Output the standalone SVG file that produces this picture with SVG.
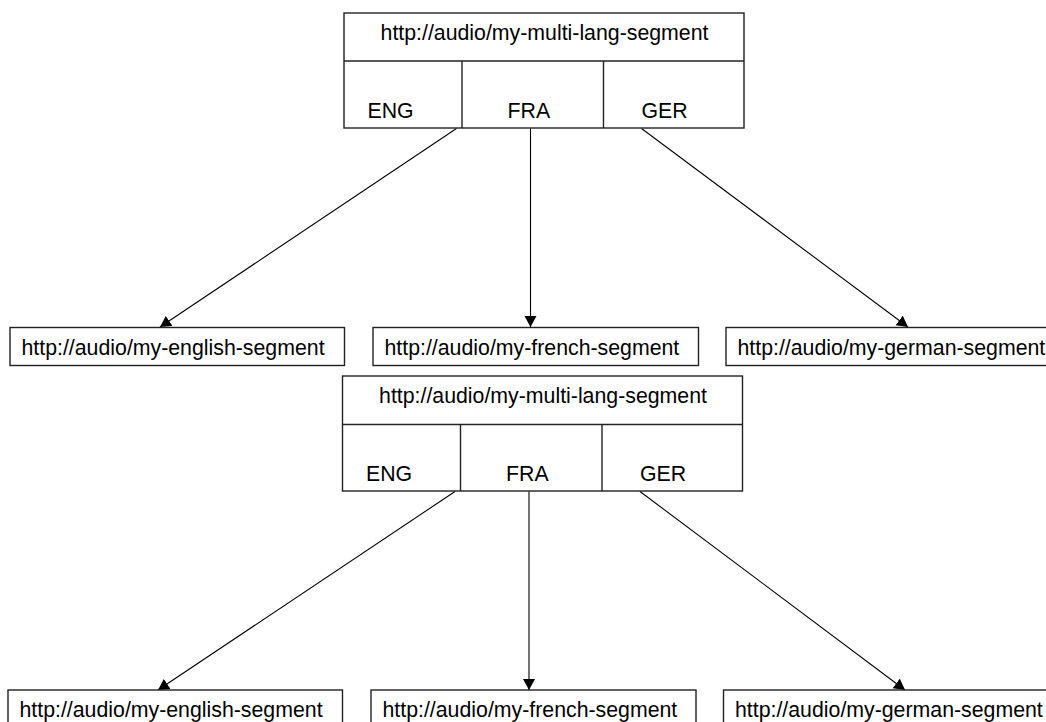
<svg xmlns="http://www.w3.org/2000/svg" width="1046" height="722" viewBox="0 0 1046 722">
<style>
.box{fill:#fff;stroke:#222;stroke-width:1.4}
.ln{stroke:#222;stroke-width:1.4;fill:none}
.t{font-family:"Liberation Sans",Arial,sans-serif;font-size:21.3px;fill:#000}
.c{stroke:#000;stroke-width:1.1;fill:none;marker-end:url(#ah)}
</style>
<defs>
<marker id="ah" markerUnits="userSpaceOnUse" markerWidth="13" markerHeight="13" refX="11" refY="6" orient="auto">
<path d="M0,0 L11,6 L0,12 z" fill="#000"/>
</marker>
</defs>
<rect width="1046" height="722" fill="#fff"/>
<g id="connectors">
<line class="c" x1="456.5" y1="128.5" x2="160" y2="327"/>
<line class="c" x1="530.5" y1="128.5" x2="530.5" y2="327"/>
<line class="c" x1="641.5" y1="128.5" x2="908" y2="327"/>
<line class="c" x1="455" y1="491.5" x2="158" y2="690"/>
<line class="c" x1="529" y1="491.5" x2="529" y2="690"/>
<line class="c" x1="640" y1="491.5" x2="905" y2="690"/>
</g>
<g id="multi1">
<rect class="box" x="344" y="13" width="400" height="115"/>
<line class="ln" x1="344" y1="61" x2="744" y2="61"/>
<line class="ln" x1="462" y1="61" x2="462" y2="128"/>
<line class="ln" x1="603.5" y1="61" x2="603.5" y2="128"/>
<text class="t" x="544.5" y="39.5" text-anchor="middle">http://audio/my-multi-lang-segment</text>
<text class="t" x="367.5" y="118">ENG</text>
<text class="t" x="507.5" y="118">FRA</text>
<text class="t" x="641.5" y="118">GER</text>
</g>
<g id="eng1">
<rect class="box" x="10" y="327.5" width="334.5" height="38"/>
<text class="t" x="21.5" y="354.5">http://audio/my-english-segment</text>
</g>
<g id="fra1">
<rect class="box" x="373" y="327.5" width="325.5" height="38"/>
<text class="t" x="384.5" y="354.5">http://audio/my-french-segment</text>
</g>
<g id="ger1">
<rect class="box" x="726" y="327.5" width="330" height="38"/>
<text class="t" x="737.5" y="354.5">http://audio/my-german-segment</text>
</g>
<g id="multi2">
<rect class="box" x="342.5" y="376" width="400" height="115"/>
<line class="ln" x1="342.5" y1="424.5" x2="742.5" y2="424.5"/>
<line class="ln" x1="460.5" y1="424.5" x2="460.5" y2="491"/>
<line class="ln" x1="602" y1="424.5" x2="602" y2="491"/>
<text class="t" x="543" y="402.5" text-anchor="middle">http://audio/my-multi-lang-segment</text>
<text class="t" x="366" y="481">ENG</text>
<text class="t" x="506" y="481">FRA</text>
<text class="t" x="640" y="481">GER</text>
</g>
<g id="eng2">
<rect class="box" x="8" y="690" width="334.5" height="38"/>
<text class="t" x="19.5" y="717">http://audio/my-english-segment</text>
</g>
<g id="fra2">
<rect class="box" x="371" y="690" width="325" height="38"/>
<text class="t" x="382.5" y="717">http://audio/my-french-segment</text>
</g>
<g id="ger2">
<rect class="box" x="723.5" y="690" width="330" height="38"/>
<text class="t" x="735" y="717">http://audio/my-german-segment</text>
</g>
</svg>
